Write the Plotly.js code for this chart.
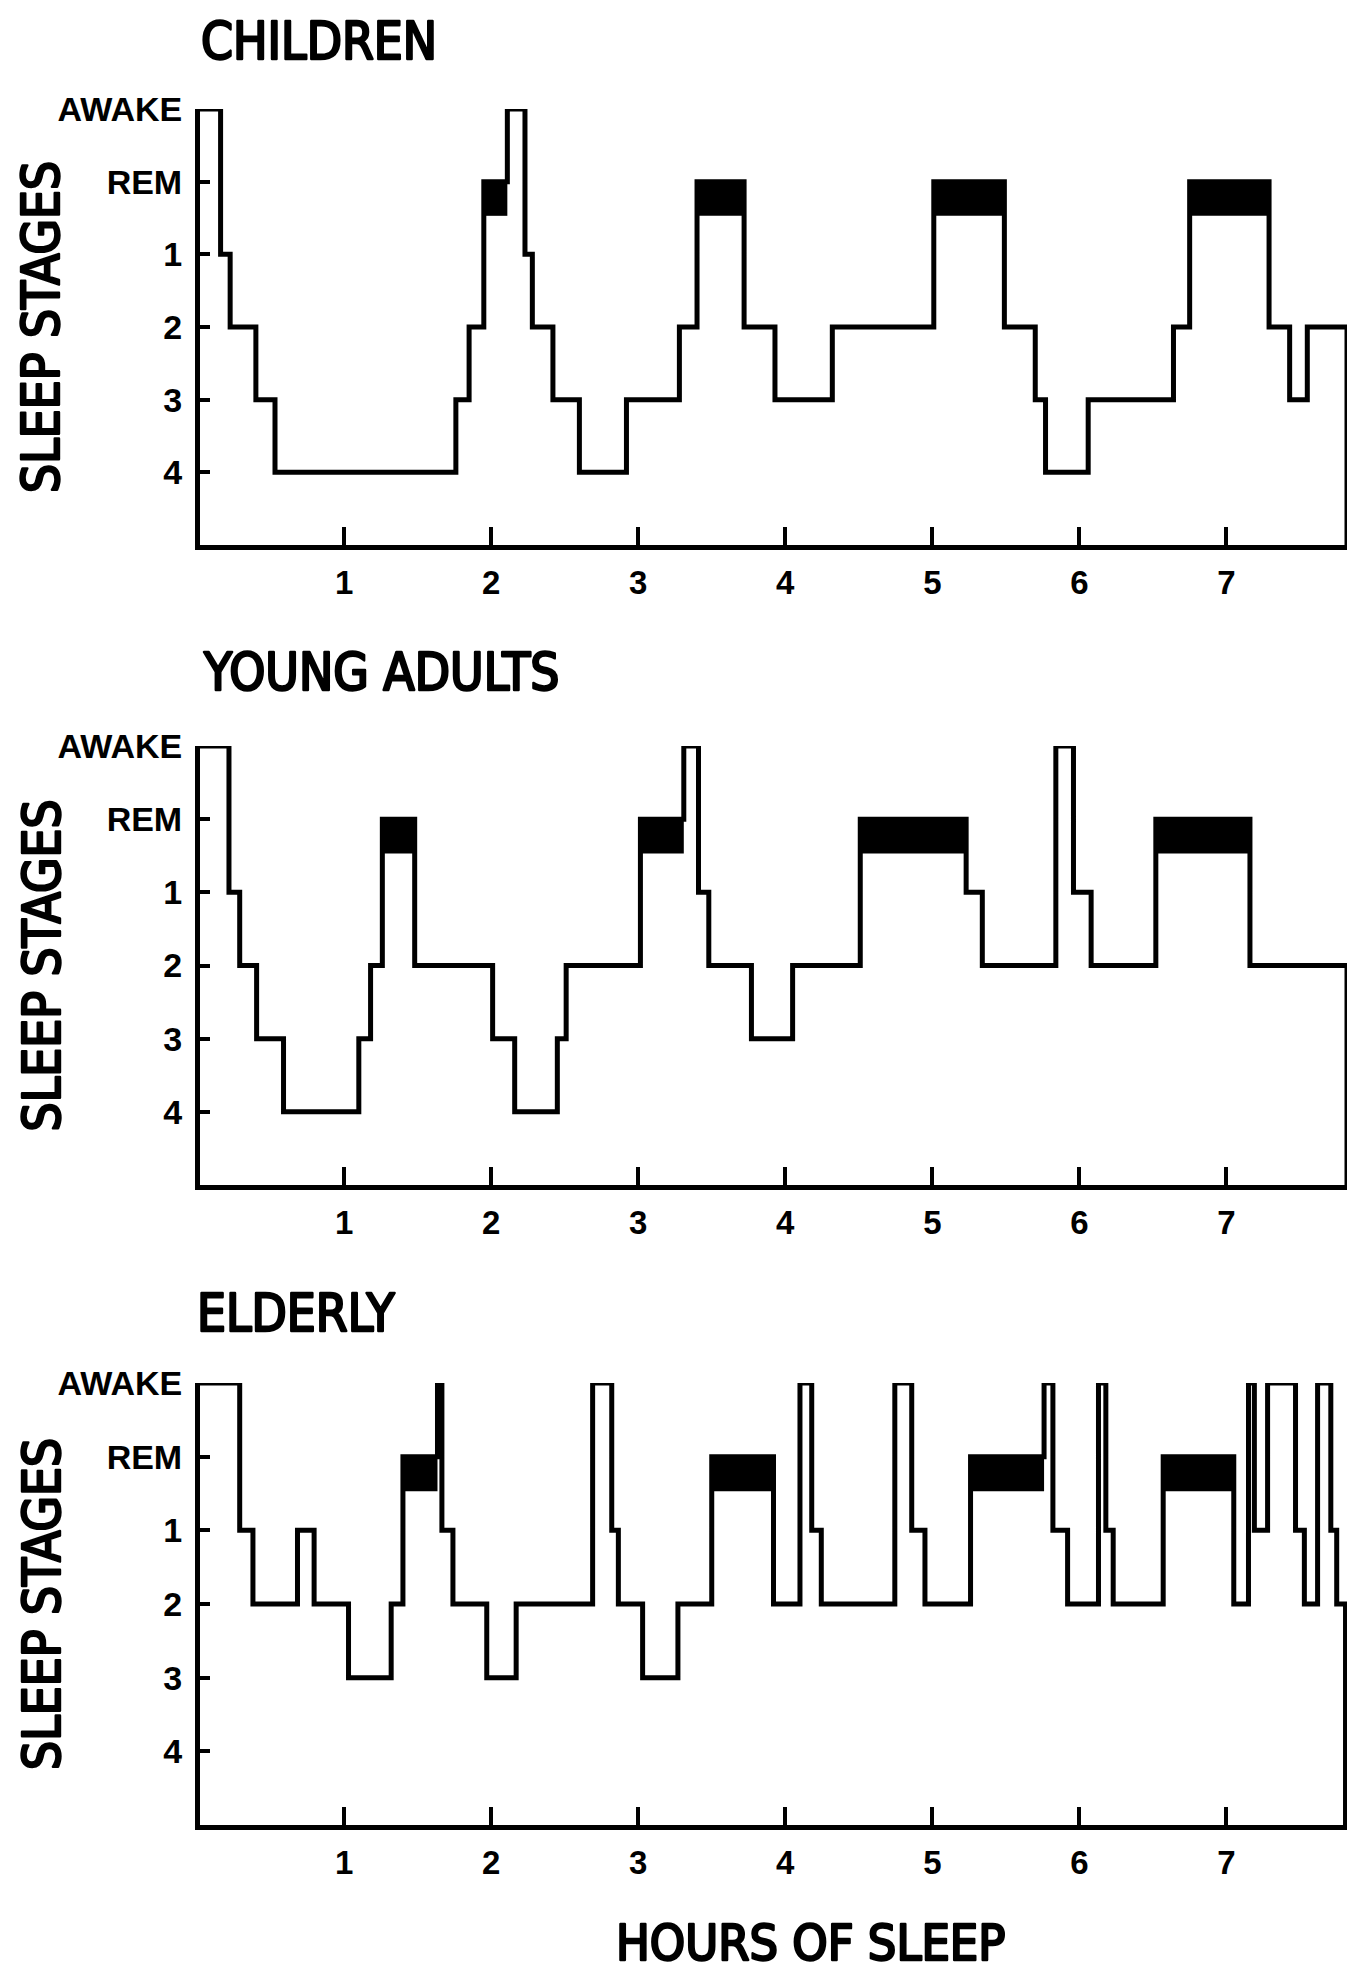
<!DOCTYPE html>
<html>
<head>
<meta charset="utf-8">
<script src="https://cdn.plot.ly/plotly-3.0.1.min.js"></script>
<style>
  html, body { margin: 0; padding: 0; background: #ffffff; }
  #chart { width: 1351px; height: 1976px; }
</style>
</head>
<body>
<div id="chart"></div>
<script>
// ---- data ----
const stageLabels = ['4', '3', '2', '1', 'REM', 'AWAKE'];   // bottom -> top
const hourTicks = [1, 2, 3, 4, 5, 6, 7];
const hourTickText = ['1', '2', '3', '4', '5', '6', '7'];
const panelTitles = ['CHILDREN', 'YOUNG ADULTS', 'ELDERLY'];
const xTitle = 'HOURS OF SLEEP';
const yTitle = 'SLEEP STAGES';

// segment start times (hours); the last value is the end of the record
const childrenTimes = [0.02, 0.16, 0.225, 0.40, 0.53, 1.76, 1.85, 1.95, 2.11, 2.23, 2.28, 2.42, 2.60, 2.92,
  3.28, 3.40, 3.72, 3.93, 4.32, 5.01, 5.49, 5.70, 5.77, 6.06, 6.64, 6.75, 7.29, 7.43, 7.55, 7.82];
const childrenStages = ['AWAKE', '1', '2', '3', '4', '3', '2', 'REM', 'AWAKE', '1', '2', '3', '4', '3',
  '2', 'REM', '2', '3', '2', 'REM', '2', '3', '4', '3', '2', 'REM', '2', '3', '2'];

const youngTimes = [0.02, 0.217, 0.29, 0.405, 0.588, 1.10, 1.18, 1.26, 1.48, 2.01, 2.16, 2.45, 2.51,
  3.015, 3.31, 3.41, 3.48, 3.77, 4.05, 4.51, 5.23, 5.34, 5.84, 5.96, 6.08, 6.52, 7.16, 7.82];
const youngStages = ['AWAKE', '1', '2', '3', '4', '3', '2', 'REM', '2', '3', '4', '3', '2',
  'REM', 'AWAKE', '1', '2', '3', '2', 'REM', '1', '2', 'AWAKE', '1', '2', 'REM', '2'];

const elderlyTimes = [0.02, 0.29, 0.38, 0.683, 0.796, 1.03, 1.32, 1.40, 1.635, 1.665, 1.74, 1.97, 2.17,
  2.69, 2.82, 2.865, 3.03, 3.27, 3.50, 3.92, 4.10, 4.18, 4.245, 4.745, 4.86, 4.95, 5.26, 5.76, 5.82,
  5.92, 6.13, 6.18, 6.23, 6.57, 7.05, 7.15, 7.19, 7.28, 7.47, 7.53, 7.62, 7.71, 7.75, 7.81];
const elderlyStages = ['AWAKE', '1', '2', '1', '2', '3', '2', 'REM', 'AWAKE', '1', '2', '3', '2',
  'AWAKE', '1', '2', '3', '2', 'REM', '2', 'AWAKE', '1', '2', 'AWAKE', '1', '2', 'REM', 'AWAKE', '1',
  '2', 'AWAKE', '1', '2', 'REM', '2', 'AWAKE', '1', 'AWAKE', '1', '2', 'AWAKE', '1', '2'];

// ---- styling / layout ----
const W = 1351, H = 1976;
const labelFont = 'Liberation Sans, Arial, sans-serif';
const titleFont = 'DejaVu Sans Condensed, DejaVu Sans, sans-serif';
const xDomain = [200 / W, 1347 / W];
const panelPx = [[109, 545], [746, 1185], [1383, 1825]];      // AWAKE level, x-axis (px from top)
const titlePx = [[199, 41], [201, 672], [195, 1313]];
const remDepth = 0.47;

const series = [
  [childrenTimes, childrenStages],
  [youngTimes, youngStages],
  [elderlyTimes, elderlyStages]
];

const level = s => stageLabels.indexOf(s);
const data = [];
const layout = {
  width: W, height: H,
  margin: {l: 0, r: 0, t: 0, b: 0},
  paper_bgcolor: '#fff', plot_bgcolor: 'rgba(0,0,0,0)',
  showlegend: false,
  annotations: []
};

series.forEach(([times, stages], p) => {
  const sfx = p === 0 ? '' : String(p + 1);
  const xa = 'x' + sfx, ya = 'y' + sfx;

  // REM blocks (filled black) under the hypnogram line
  stages.forEach((s, i) => {
    if (s === 'REM') {
      const x0 = times[i], x1 = times[i + 1], yT = level('REM'), yB = level('REM') - remDepth;
      data.push({
        type: 'scatter', mode: 'lines', xaxis: xa, yaxis: ya,
        x: [x0, x1, x1, x0, x0], y: [yT, yT, yB, yB, yT],
        fill: 'toself', fillcolor: '#000', line: {width: 0, color: '#000'},
        hoverinfo: 'skip', cliponaxis: false
      });
    }
  });

  // hypnogram step line, ending with a drop to the baseline
  data.push({
    type: 'scatter', mode: 'lines', xaxis: xa, yaxis: ya,
    x: times.slice(),
    y: stages.map(level).concat([-1]),
    line: {shape: 'hv', width: 5, color: '#000'},
    cliponaxis: false, hoverinfo: 'skip'
  });

  const [topPx, botPx] = panelPx[p];
  layout['xaxis' + sfx] = {
    domain: xDomain, anchor: ya, range: [0.02, 7.82],
    tickmode: 'array', tickvals: hourTicks, ticktext: hourTickText,
    ticks: 'inside', ticklen: 18, tickwidth: 4, tickcolor: '#000',
    showline: true, linewidth: 5, linecolor: '#000',
    showgrid: false, zeroline: false, fixedrange: true,
    ticklabelstandoff: 4,
    tickfont: {family: labelFont, size: 33, color: '#000', weight: 'bold'}
  };
  layout['yaxis' + sfx] = {
    domain: [1 - botPx / H, 1 - topPx / H], anchor: xa, range: [-1, 5],
    tickmode: 'array', tickvals: stageLabels.map((_, i) => i), ticktext: stageLabels,
    ticks: 'inside', ticklen: 10, tickwidth: 4, tickcolor: '#000',
    showline: true, linewidth: 5, linecolor: '#000',
    showgrid: false, zeroline: false, fixedrange: true,
    ticklabelstandoff: 6,
    tickfont: {family: labelFont, size: 34, color: '#000', weight: 'bold'}
  };

  layout.annotations.push({
    xref: 'paper', yref: 'paper', x: titlePx[p][0] / W, y: 1 - titlePx[p][1] / H,
    xanchor: 'left', yanchor: 'middle', showarrow: false,
    text: panelTitles[p],
    font: {family: titleFont, size: 51, color: '#000'}
  });
  layout.annotations.push({
    xref: 'paper', yref: 'paper', x: 42 / W, y: 1 - ((topPx + botPx) / 2) / H,
    xanchor: 'center', yanchor: 'middle', showarrow: false, textangle: -90,
    text: yTitle,
    font: {family: titleFont, size: 51, color: '#000'}
  });
});

layout.annotations.push({
  xref: 'paper', yref: 'paper', x: 810 / W, y: 1 - 1943 / H,
  xanchor: 'center', yanchor: 'middle', showarrow: false,
  text: xTitle,
  font: {family: titleFont, size: 50, color: '#000'}
});

Plotly.newPlot('chart', data, layout, {displayModeBar: false, staticPlot: true}).then(gd => {
  // heavier strokes for the condensed heading lettering, as in the reference
  gd.querySelectorAll('.annotation-text').forEach(el => {
    el.style.stroke = '#000';
    el.style.strokeWidth = '2.4px';
    el.style.strokeLinejoin = 'round';
  });
});
</script>
</body>
</html>
